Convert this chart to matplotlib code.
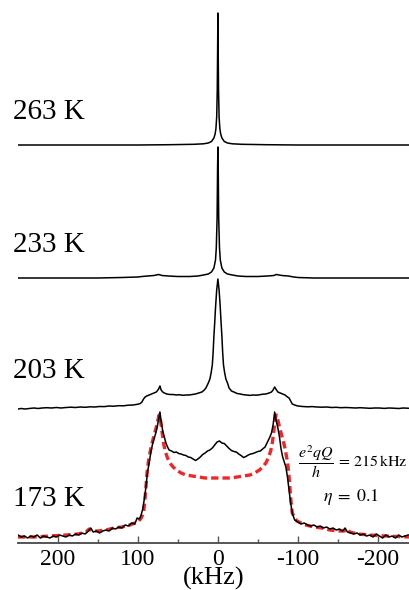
import numpy as np
import matplotlib
matplotlib.use('Agg')
from matplotlib import pyplot as plt

plt.rcParams['font.family'] = ['Liberation Serif', 'DejaVu Serif']
plt.rcParams['mathtext.fontset'] = 'stix'
plt.rcParams['axes.unicode_minus'] = False

# spectra: (frequency kHz, height above own baseline)
spec263 = [(250, 0), (200, 0), (150, 0), (100, 0), (60, 0.3), (30, 0.7), (18, 1.2), (12, 2),
           (8, 3.5), (5, 7), (3.5, 11), (2.5, 16), (1.5, 28), (0.8, 55), (0.3, 100), (0, 132),
           (-0.3, 100), (-0.8, 55), (-1.5, 28), (-2.5, 16), (-3.5, 11), (-5, 7), (-8, 3.5),
           (-12, 2), (-18, 1.2), (-30, 0.7), (-60, 0.3), (-100, 0), (-150, 0), (-200, 0), (-239, 0)]

spec233 = [(250, 0), (200, 0), (150, 0), (120, 0.5), (100, 1), (95, 1.5), (88, 2), (80, 2.5),
           (74, 3.5), (70, 2.5), (62, 2), (50, 1.5), (35, 1.5), (25, 2), (18, 3), (12, 4), (8, 6),
           (5, 10), (3, 18), (2, 30), (1, 60), (0.4, 110), (0, 131), (-0.4, 110), (-1, 60),
           (-2, 30), (-3, 18), (-5, 10), (-8, 6), (-12, 4), (-18, 3), (-25, 2), (-35, 1.5),
           (-50, 1.5), (-62, 2), (-70, 2.5), (-73, 3.5), (-80, 2.5), (-88, 2), (-95, 1),
           (-100, 0.5), (-120, 0), (-150, 0), (-200, 0), (-239, 0)]

spec203 = [(250, -1), (246, -0.5), (241, -1), (236, -0.5), (230, 0), (225, -0.5), (220, 0),
           (214, 0.3), (208, 0), (202, 0.5), (196, 0), (190, 0.5), (184, 0.8), (178, 0.5),
           (172, 1), (166, 0.7), (160, 1.2), (154, 1), (148, 1.5), (142, 1.4), (136, 2),
           (130, 1.8), (124, 2.3), (118, 2.2), (112, 2.8), (106, 3), (100, 3.8), (97, 4.5),
           (95, 6), (93, 9), (91, 11), (89, 12), (86, 13), (83, 14), (80, 15), (77, 16), (75, 18),
           (73.5, 20), (72.5, 22), (71, 18), (69, 16), (67, 15), (64, 14), (60, 13.5), (56, 13.5),
           (52, 13), (48, 13.3), (44, 12.7), (40, 13), (36, 13), (32, 13.5), (28, 14), (24, 15),
           (20, 16), (17, 18), (15, 20), (12, 25), (10, 29), (8.5, 35), (7, 43), (6, 55), (5, 72),
           (4, 85), (3, 100), (1.5, 118), (0, 129), (-1.5, 118), (-3, 100), (-4, 85), (-5, 72),
           (-6, 55), (-7, 43), (-8.5, 35), (-10, 29), (-12, 25), (-14, 20), (-17, 17), (-20, 16),
           (-24, 14.5), (-28, 14), (-32, 13.3), (-36, 13), (-40, 12.6), (-44, 13), (-48, 12.8),
           (-52, 13.2), (-56, 13.8), (-60, 14), (-64, 15), (-67, 16), (-69, 18), (-71, 21),
           (-72.5, 19), (-75, 16), (-78, 15), (-81, 14), (-84, 13), (-87, 11), (-89, 10),
           (-91, 7), (-93, 4), (-96, 3), (-100, 2), (-106, 1.5), (-112, 1.2), (-118, 1.4),
           (-124, 1), (-130, 0.8), (-136, 1), (-142, 0.5), (-148, 0.7), (-154, 0.3), (-160, 0.5),
           (-166, 0.3), (-172, 0), (-178, 0.3), (-184, 0), (-190, -0.3), (-196, 0), (-202, 0),
           (-208, -0.4), (-214, 0), (-220, -0.2), (-226, -0.5), (-232, 0), (-239, -0.3)]

spec173 = [(250, 2), (246, 0), (242, 1), (238, -1), (234, 1), (230, 0), (226, 2), (222, -1),
           (218, 1), (214, 0), (210, -1), (206, 1), (202, 0), (198, 2), (194, 1), (190, 0),
           (186, 2), (182, 1), (178, 3), (174, 2), (170, 4), (166, 3), (162, 6), (159, 9),
           (156, 5), (152, 6), (148, 4), (144, 6), (140, 7), (136, 6), (132, 9), (128, 8),
           (124, 10), (120, 9), (116, 12), (112, 11), (108, 14), (104, 13), (101, 19), (98, 18),
           (96, 22), (94, 28), (92, 38), (90, 50), (88, 65), (86, 74), (84, 84), (82, 92),
           (80, 98), (78, 103), (76, 110), (74, 118), (72.5, 125), (71, 116), (69, 106),
           (67, 100), (65, 94), (63, 90), (61, 87), (58, 86), (55, 84.5), (52, 85), (49, 83.5),
           (46, 83), (43, 82), (40, 81.5), (37, 80), (34, 79.5), (31, 78), (28, 76.5), (25, 78),
           (22, 80), (19, 82.5), (16, 84), (13, 86), (10, 87), (7, 89), (4, 92), (1, 95),
           (-2, 96), (-5, 94), (-8, 93.5), (-11, 91), (-14, 88.5), (-17, 86.5), (-20, 85.5),
           (-23, 85), (-26, 83), (-29, 81.5), (-32, 79.5), (-35, 80.5), (-38, 82), (-41, 83),
           (-44, 83.5), (-47, 84.5), (-50, 85.5), (-53, 86), (-56, 88), (-59, 90), (-62, 95),
           (-65, 100), (-67, 104), (-69, 112), (-71, 125), (-73, 116), (-75, 109), (-77, 100),
           (-79, 88), (-81, 80), (-83, 75), (-85, 70), (-87, 60), (-89, 47), (-91, 34), (-93, 24),
           (-96, 17), (-100, 15), (-104, 13), (-108, 14), (-112, 12), (-116, 11), (-120, 12),
           (-124, 10), (-128, 11), (-132, 9), (-136, 10), (-140, 8), (-144, 9), (-148, 7),
           (-152, 8), (-156, 6), (-159, 9), (-162, 5), (-166, 4), (-170, 3), (-174, 4), (-178, 2),
           (-182, 3), (-186, 1), (-190, 2), (-194, 0), (-198, 3), (-202, 1), (-206, -1),
           (-210, 2), (-214, 0), (-218, 1), (-222, -1), (-226, 2), (-230, 0), (-234, 1), (-238, 2)]

fit173 = [(250, 0), (230, 0), (210, 1), (190, 2), (175, 3), (165, 5), (161, 8), (158, 6),
          (150, 6), (140, 7), (130, 9), (120, 10), (110, 12), (104, 14), (99, 16), (96, 19),
          (93, 24), (91.5, 35), (90, 50), (88.5, 65), (87, 75), (85, 84), (83, 92), (81, 98),
          (79, 104), (77, 110), (75, 117), (73.5, 122), (72, 118), (70, 106), (68, 94), (66, 86),
          (63, 79), (60, 74), (56, 70), (52, 67), (46, 64), (40, 62), (32, 61), (24, 60),
          (16, 59), (8, 59), (0, 59), (-8, 59), (-16, 59), (-24, 60), (-32, 61), (-40, 62),
          (-46, 64), (-52, 67), (-56, 70), (-60, 74), (-63, 79), (-66, 86), (-68, 94), (-70, 106),
          (-71.5, 118), (-73, 122), (-75, 117), (-77, 110), (-79, 104), (-81, 98), (-83, 92),
          (-85, 84), (-87, 75), (-88.5, 65), (-90, 50), (-91.5, 35), (-93, 24), (-96, 19),
          (-99, 16), (-104, 14), (-110, 12), (-120, 10), (-130, 9), (-140, 7), (-150, 6),
          (-158, 6), (-161, 8), (-165, 5), (-175, 3), (-190, 2), (-210, 1), (-239, 0)]

temps = ['263 K', '233 K', '203 K', '173 K']
spectra = [spec263, spec233, spec203, spec173]
offsets = [398, 265, 135, 6]
label_y = [431, 298, 172, 44]

fig = plt.figure(figsize=(4.09, 5.90), dpi=100)
ax = fig.add_axes([18/409, 47/590, 391/409, 543/590])

f, h = np.array(fit173).T
ax.plot(f, h + offsets[3], color=(0.95, 0.15, 0.15), lw=2.4, dashes=(2.2, 1.2))

for spec, off, name, ly in zip(spectra, offsets, temps, label_y):
    f, h = np.array(spec).T
    ax.plot(f, h + off, color='k', lw=1.1)
    ax.text(256, ly, name, fontsize=21, ha='left', va='center', clip_on=False)

ax.text(-237.5, 81, r'$\dfrac{e^2qQ}{h}\,=\,215\,\mathrm{kHz}$', fontsize=11.5,
        ha='right', va='center', clip_on=False)
ax.text(-166, 46, r'$\eta\;=\;0.1$', fontsize=13, ha='center', va='center')

ax.set_xlim(250, -239)
ax.set_ylim(0, 543)
ax.set_xticks([200, 100, 0, -100, -200])
ax.set_xticks([150, 50, -50, -150], minor=True)
ax.set_yticks([])
for s in ['top', 'left', 'right']:
    ax.spines[s].set_visible(False)
ax.spines['bottom'].set_color('#555555')
ax.spines['bottom'].set_linewidth(1.4)
ax.tick_params(axis='x', which='major', direction='in', length=5, width=1, color='#555555',
               labelsize=17, pad=4)
ax.tick_params(axis='x', which='minor', direction='in', length=3, width=1, color='#555555')
ax.set_xlabel('(kHz)', fontsize=19, labelpad=-2)
ax.patch.set_visible(False)

fig.savefig('out.png', dpi=100)
